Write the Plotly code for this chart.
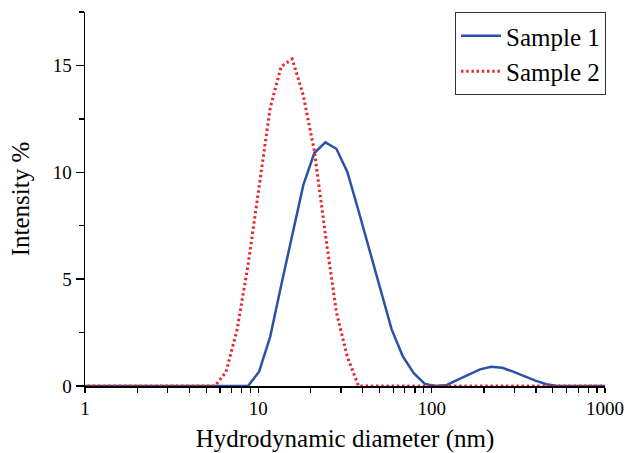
import plotly.graph_objects as go

# DLS size bins (nm)
diam = [0.9649, 1.117, 1.294, 1.499, 1.736, 2.01, 2.328, 2.696, 3.122, 3.615, 4.187, 4.849,
        5.615, 6.503, 7.531, 8.721, 10.1, 11.7, 13.54, 15.69, 18.17, 21.04, 24.36, 28.21,
        32.67, 37.84, 43.82, 50.75, 58.77, 68.06, 78.82, 91.28, 105.7, 122.4, 141.8, 164.2,
        190.1, 220.2, 255.0, 295.3, 342.0, 396.1, 458.7, 531.2, 615.1, 712.4, 825.0, 955.4, 1106]

sample1 = [0, 0, 0, 0, 0, 0, 0, 0, 0, 0, 0, 0,
           0, 0, 0, 0, 0.67, 2.3, 4.7, 7.0, 9.4, 10.9, 11.4, 11.1,
           10.0, 8.2, 6.3, 4.5, 2.65, 1.4, 0.6, 0.1, 0.0, 0.05, 0.3, 0.55,
           0.78, 0.9, 0.85, 0.67, 0.45, 0.25, 0.08, 0, 0, 0, 0, 0, 0]

sample2 = [0, 0, 0, 0, 0, 0, 0, 0, 0, 0, 0, 0,
           0, 0.65, 2.6, 5.65, 9.4, 13.0, 14.95, 15.3, 13.6, 11.0, 7.1, 3.45,
           1.35, 0, 0, 0, 0, 0, 0, 0, 0, 0, 0, 0,
           0, 0, 0, 0, 0, 0, 0, 0, 0, 0, 0, 0, 0]

x_major = [1, 10, 100, 1000]
x_ticks = [m * d for d in [1, 10, 100] for m in range(1, 10)] + [1000]
x_text = [str(v) if v in x_major else "" for v in x_ticks]

font_family = "Liberation Serif, Times New Roman, serif"

fig = go.Figure()
fig.add_trace(go.Scatter(x=diam, y=sample1, mode="lines", name="Sample 1",
                         line=dict(color="#2b52a8", width=2.5)))
fig.add_trace(go.Scatter(x=diam, y=sample2, mode="lines", name="Sample 2",
                         line=dict(color="#e3262e", width=3, dash="2.4px,2.8px")))

fig.update_layout(
    width=628, height=453,
    margin=dict(l=85, r=23, t=12, b=67, autoexpand=False),
    paper_bgcolor="white", plot_bgcolor="white",
    font=dict(family=font_family, color="black", size=19),
    showlegend=True,
    hovermode=False,
    legend=dict(x=1.002, y=1.0, xanchor="right", yanchor="top",
                bordercolor="#333333", borderwidth=1, bgcolor="white",
                font=dict(size=25, family=font_family), tracegroupgap=0,
                itemwidth=40),
)
fig.update_xaxes(
    type="log", range=[0, 3], automargin=False,
    tickvals=x_ticks, ticktext=x_text,
    ticks="outside", ticklen=5, tickwidth=1.3, tickcolor="black",
    showline=True, linecolor="black", linewidth=1.5,
    showgrid=False, zeroline=False,
    tickfont=dict(size=19),
    title=dict(text="Hydrodynamic diameter (nm)", font=dict(size=25), standoff=14),
)
fig.update_yaxes(
    range=[0, 17.5], dtick=5, tick0=0, automargin=False,
    ticks="outside", ticklen=8, tickwidth=1.3, tickcolor="black",
    minor=dict(dtick=2.5, tick0=0, ticks="outside", ticklen=5, tickwidth=1.3, tickcolor="black"),
    showline=True, linecolor="black", linewidth=1.5,
    showgrid=False, zeroline=False,
    tickfont=dict(size=19),
    title=dict(text="Intensity %", font=dict(size=25), standoff=16),
)

fig.write_html("out.html",
               config={"displayModeBar": False, "staticPlot": True},
               post_script="document.body.style.margin='0';document.body.style.overflow='hidden';")
